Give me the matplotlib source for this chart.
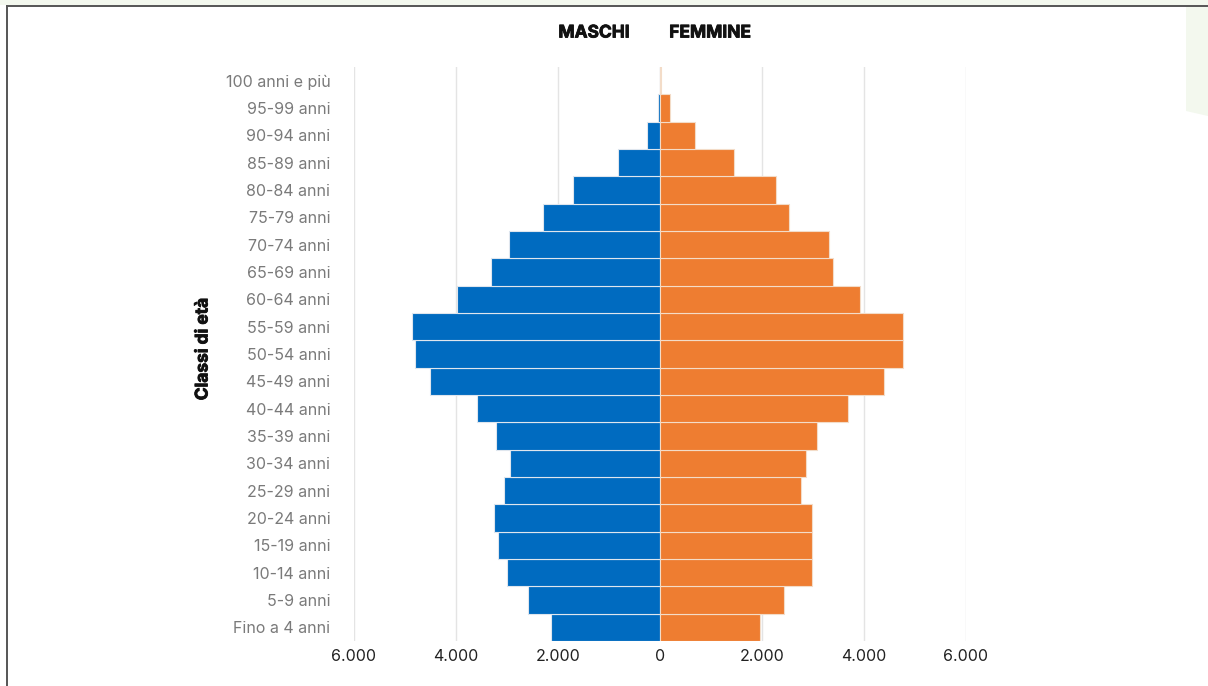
import matplotlib
matplotlib.use("Agg")
import matplotlib.pyplot as plt
import matplotlib.patheffects as pe
from matplotlib.ticker import FuncFormatter
from matplotlib.lines import Line2D
from matplotlib.patches import Polygon, Rectangle

categories = ["Fino a 4 anni", "5-9 anni", "10-14 anni", "15-19 anni", "20-24 anni",
              "25-29 anni", "30-34 anni", "35-39 anni", "40-44 anni", "45-49 anni",
              "50-54 anni", "55-59 anni", "60-64 anni", "65-69 anni", "70-74 anni",
              "75-79 anni", "80-84 anni", "85-89 anni", "90-94 anni", "95-99 anni",
              "100 anni e più"]
maschi = [2130, 2580, 3005, 3175, 3260, 3050, 2950, 3220, 3590, 4515,
          4810, 4860, 3975, 3310, 2960, 2290, 1700, 830, 260, 30, 5]
femmine = [1970, 2430, 2990, 2980, 2990, 2760, 2870, 3070, 3690, 4400,
           4770, 4770, 3920, 3385, 3310, 2530, 2280, 1450, 690, 200, 20]
xticks = [-6000, -4000, -2000, 0, 2000, 4000, 6000]

BLUE = "#006bc0"
ORANGE = "#ee7d31"

fig = plt.figure(figsize=(12.08, 6.86), dpi=100)
ax = fig.add_axes([354/1208, 1-641/686, 612/1208, 574/686])

y = list(range(len(categories)))
ax.barh(y, [-m for m in maschi], height=1.0, color=BLUE, edgecolor="#dfe6ee", linewidth=0.8, zorder=3)
ax.barh(y, femmine, height=1.0, color=ORANGE, edgecolor="#f3dcc8", linewidth=0.8, zorder=3)

ax.set_xlim(-6000, 6000)
ax.set_ylim(-0.5, len(categories) - 0.5)
ax.set_xticks(xticks)
ax.xaxis.set_major_formatter(FuncFormatter(lambda v, p: f"{abs(int(v)):,}".replace(",", ".")))
ax.set_yticks(y)
ax.set_yticklabels(categories)
for s in ax.spines.values():
    s.set_visible(False)
ax.grid(axis="x", color="#e4e4e4", linewidth=1.0, zorder=0)
ax.tick_params(axis="y", length=0, pad=17, labelsize=11.5, labelcolor="#7a7a7a")
ax.tick_params(axis="x", length=0, pad=6, labelsize=11.5, labelcolor="#222222")
for lab in ax.get_yticklabels() + ax.get_xticklabels():
    lab.set_family(["Inter", "DejaVu Sans"])

heavy = [pe.withStroke(linewidth=0.6, foreground="#111111")]
fig.text(203/1208, 1-349/686, "Classi di età", rotation=90, ha="center", va="center",
         fontsize=12.5, fontweight="bold", family=["Inter", "DejaVu Sans"], color="#111111",
         path_effects=heavy)
fig.text(594/1208, 1-33/686, "MASCHI", ha="center", va="center", fontsize=12.5,
         fontweight="bold", family=["Inter", "DejaVu Sans"], color="#111111", path_effects=heavy)
fig.text(710/1208, 1-33/686, "FEMMINE", ha="center", va="center", fontsize=12.5,
         fontweight="bold", family=["Inter", "DejaVu Sans"], color="#111111", path_effects=heavy)

# page frame and decoration
fig.add_artist(Rectangle((0, 1-5/686), 1, 5/686, transform=fig.transFigure,
                         facecolor="#f3f8ee", edgecolor="none"))
fig.add_artist(Polygon([(1186/1208, 1-6/686), (1, 1-6/686), (1, 1-116/686), (1186/1208, 1-111/686)],
                       closed=True, transform=fig.transFigure, facecolor="#f3f8ee", edgecolor="none"))
fig.add_artist(Line2D([7/1208, 1], [1-6/686, 1-6/686], transform=fig.transFigure,
                      color="#555555", linewidth=1.4))
fig.add_artist(Line2D([7.5/1208, 7.5/1208], [0, 1-6/686], transform=fig.transFigure,
                      color="#555555", linewidth=1.4))

fig.savefig("out.png", dpi=100, facecolor="white")
